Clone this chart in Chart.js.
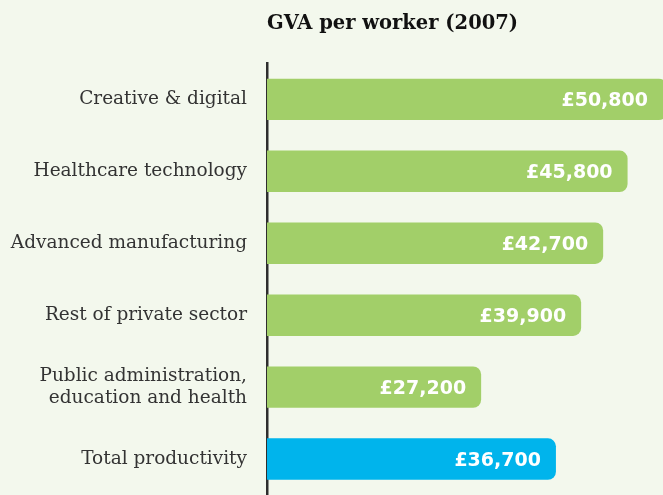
<!DOCTYPE html>
<html>
<head>
<meta charset="utf-8">
<script src="https://cdn.jsdelivr.net/npm/chart.js@4/dist/chart.umd.min.js"></script>
<style>
  html, body { margin: 0; padding: 0; background: #f3f8ed; }
  #wrap { width: 663px; height: 495px; position: relative; }
</style>
</head>
<body>
<div id="wrap"><canvas id="GraficaCanvas"></canvas></div>
<script>
const sectores = [
  "Creative & digital",
  "Healthcare technology",
  "Advanced manufacturing",
  "Rest of private sector",
  ["Public administration,", "education and health"],
  "Total productivity",
];
const gvaPorTrabajador = [50800, 45800, 42700, 39900, 27200, 36700];
const coloresBarras = ["#a2cf69", "#a2cf69", "#a2cf69", "#a2cf69", "#a2cf69", "#00b4ec"];

// etiquetas blancas dentro del final de cada barra
const etiquetasValor = {
  id: "etiquetasValor",
  afterDatasetsDraw(chart) {
    const ctx = chart.ctx;
    const meta = chart.getDatasetMeta(0);
    ctx.save();
    ctx.fillStyle = "#ffffff";
    ctx.font = "bold 19px 'DejaVu Sans'";
    ctx.textAlign = "right";
    ctx.textBaseline = "middle";
    meta.data.forEach((bar, i) => {
      const texto = "£" + gvaPorTrabajador[i].toLocaleString("en-GB");
      ctx.fillText(texto, Math.min(bar.x, chart.width) - 15, bar.y + 2);
    });
    ctx.restore();
  },
};

const ctx = document.getElementById("GraficaCanvas").getContext("2d");

new Chart(ctx, {
  type: "bar",
  data: {
    labels: sectores,
    datasets: [
      {
        data: gvaPorTrabajador,
        backgroundColor: coloresBarras,
        borderRadius: 8,
        borderSkipped: "start",
        barPercentage: 0.72,
        categoryPercentage: 0.8,
        clip: false,
      },
    ],
  },
  options: {
    indexAxis: "y",
    responsive: true,
    maintainAspectRatio: false,
    animation: false,
    layout: { padding: { left: 0, right: 0, top: 0, bottom: -2 } },
    scales: {
      x: {
        display: false,
        min: 0,
        max: 50300,
      },
      y: {
        grid: { display: false, drawTicks: false },
        border: { display: true, color: "#2e2e2e", width: 2.5 },
        ticks: {
          color: "#333333",
          padding: 20,
          font: { family: "'DejaVu Serif'", size: 18.5, lineHeight: 1.2 },
        },
        afterFit(scale) {
          scale.width = 267;
          scale.paddingTop = 0;
          scale.paddingBottom = 0;
        },
      },
    },
    plugins: {
      legend: { display: false },
      tooltip: { enabled: false },
      title: {
        display: true,
        text: "GVA per worker (2007)",
        align: "start",
        fullSize: false,
        color: "#111111",
        font: { family: "'DejaVu Serif'", size: 19.5, weight: "bold", lineHeight: 1.2 },
        padding: { top: 12, bottom: 28 },
      },
    },
  },
  plugins: [etiquetasValor],
});
</script>
</body>
</html>
